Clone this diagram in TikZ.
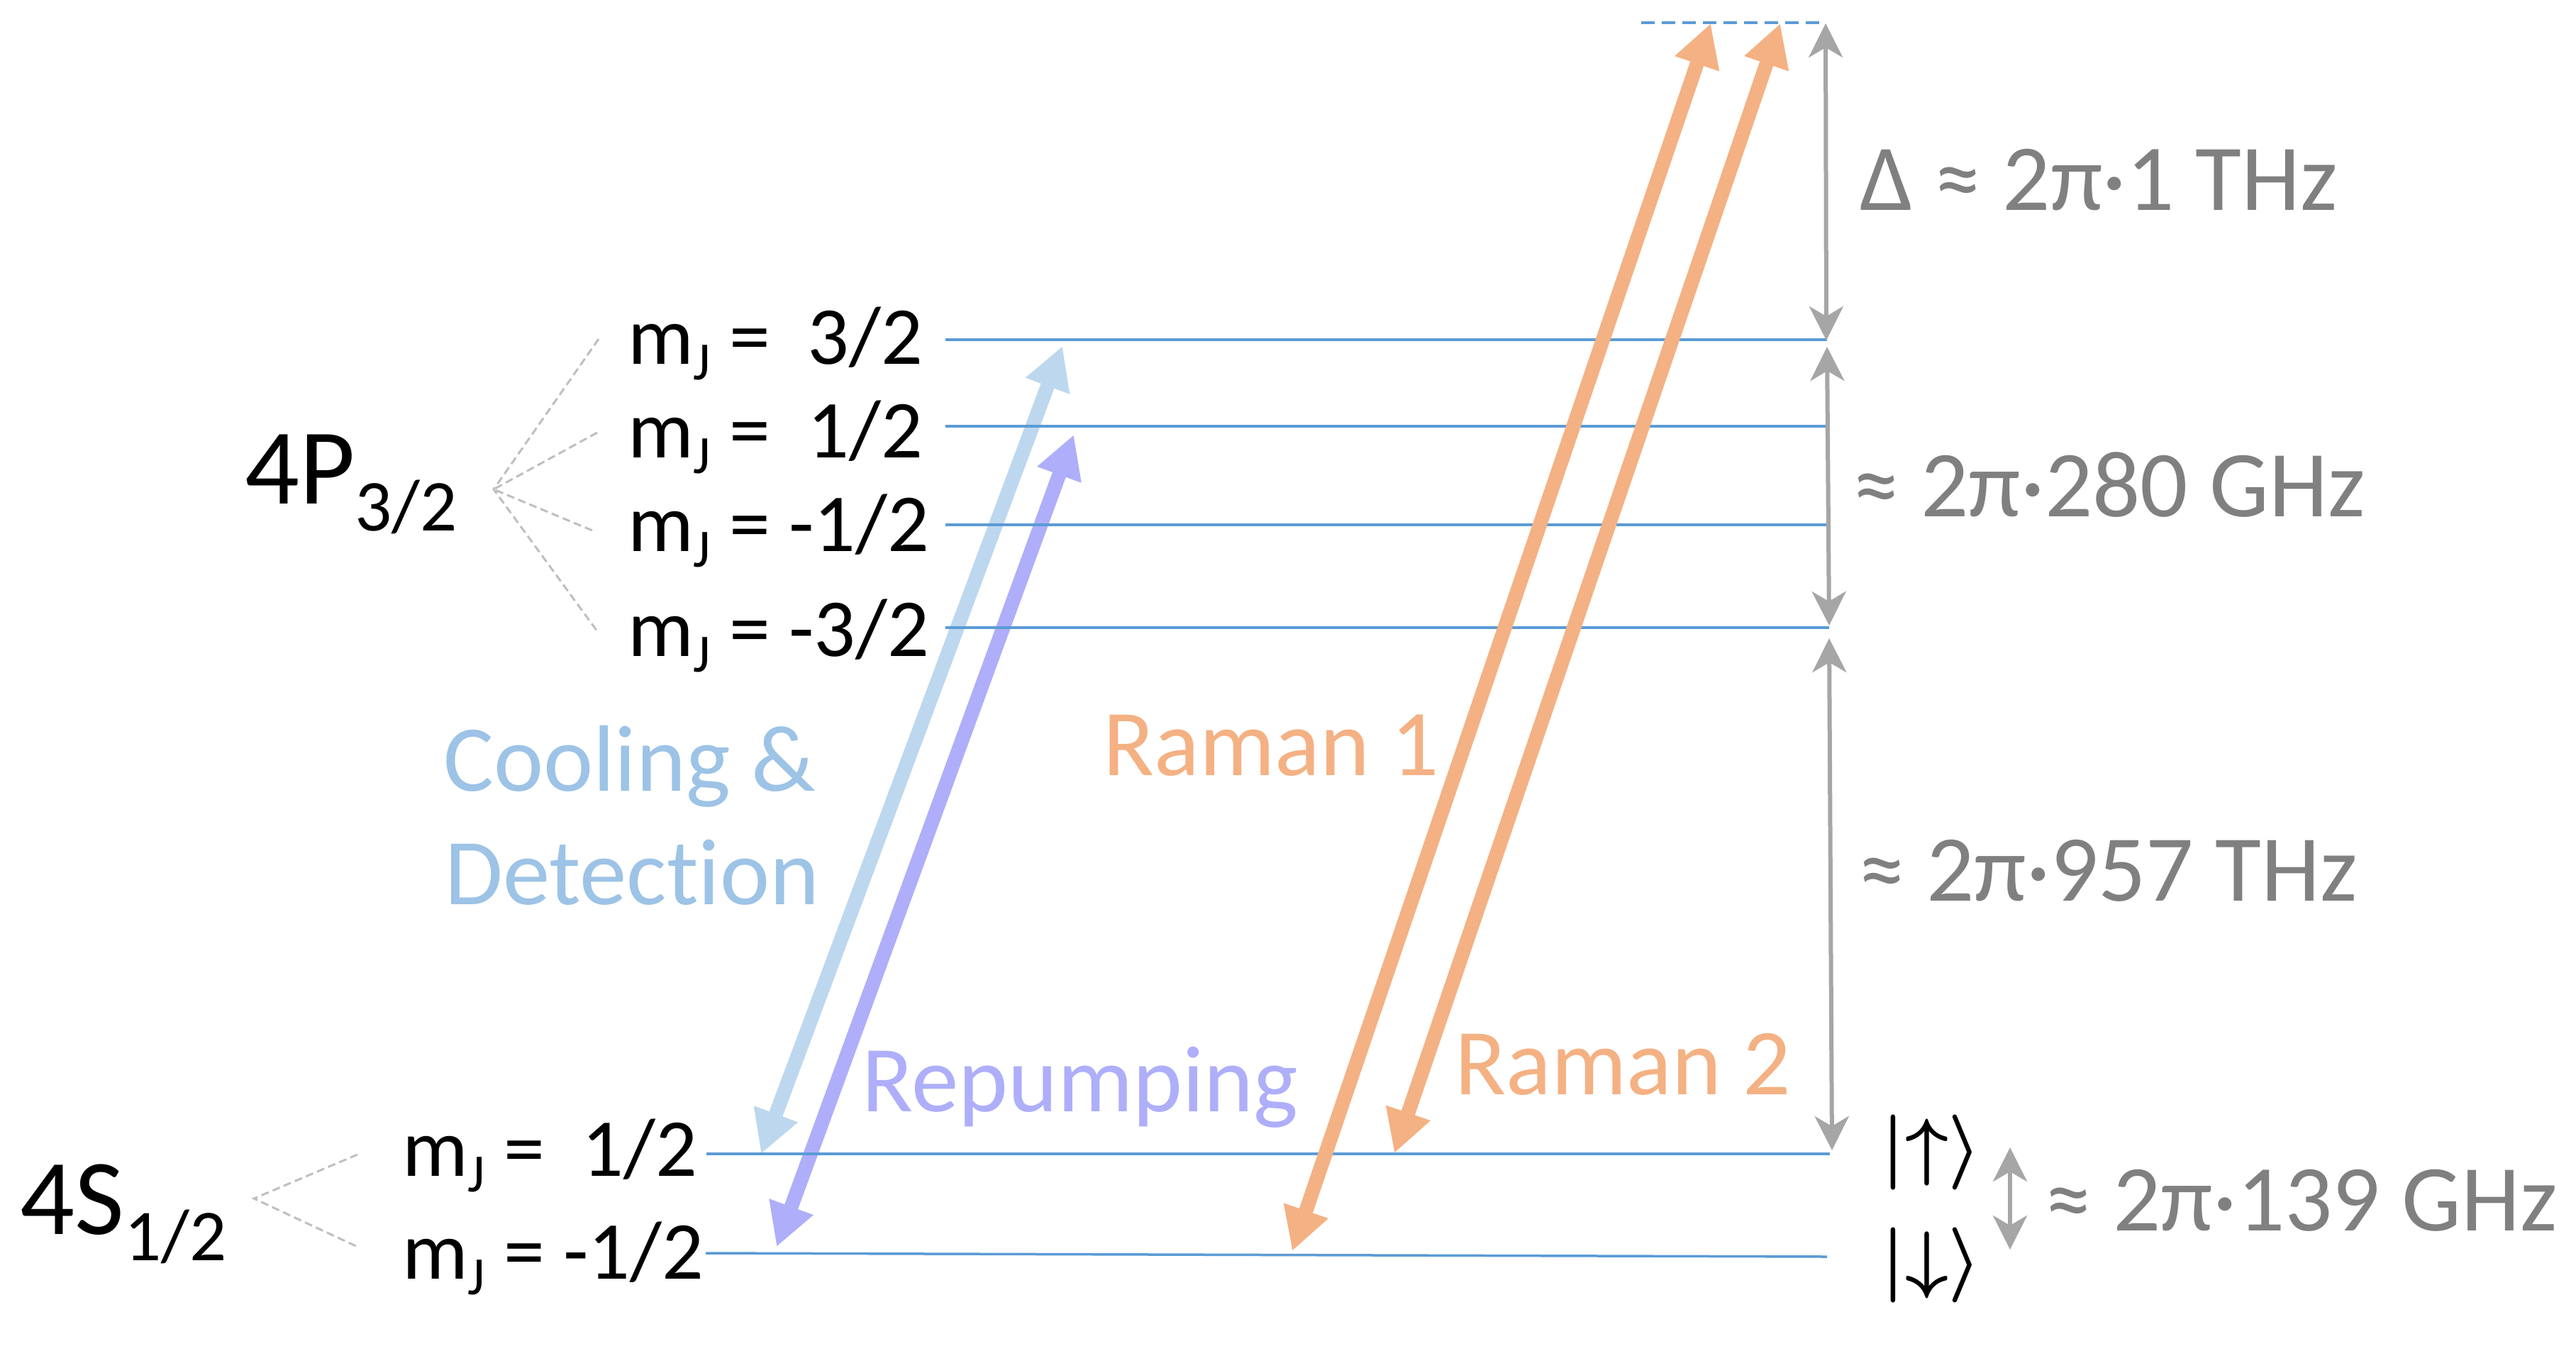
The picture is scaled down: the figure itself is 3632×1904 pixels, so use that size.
\documentclass[tikz,border=0pt]{standalone}
\usepackage{fontspec}
\setmainfont{Carlito}[Ligatures=NoCommon]
\usetikzlibrary{arrows.meta}
\definecolor{lvl}{HTML}{5B9BD5}
\definecolor{coolc}{HTML}{BDD7EE}
\definecolor{cooltxt}{HTML}{9DC3E6}
\definecolor{repc}{RGB}{174,174,250}
\definecolor{ramc}{HTML}{F4B183}
\definecolor{gtxt}{HTML}{808080}
\definecolor{garr}{HTML}{A6A6A6}
\definecolor{fanc}{HTML}{BFBFBF}
\newcommand\mjsub{m\raisebox{-22pt}{\fontsize{76}{76}\selectfont J}}
\newcommand\ketup{\scalebox{10.6}{\boldmath$|{\uparrow}\rangle$}}
\newcommand\ketdn{\scalebox{10.6}{\boldmath$|{\downarrow}\rangle$}}
\begin{document}
\begin{tikzpicture}[x=1pt,y=-1pt,
  lvline/.style={draw=lvl,line width=3.5pt},
  fanline/.style={draw=fanc,line width=3pt,dash pattern=on 11pt off 6pt},
  beam/.style={line width=20pt,{Triangle[length=60pt,width=62pt]}-{Triangle[length=60pt,width=62pt]}},
  gapline/.style={draw=garr,line width=6pt,{Stealth[length=48pt,width=48pt,inset=14pt]}-{Stealth[length=48pt,width=48pt,inset=14pt]}},
  lbl/.style={inner sep=0pt,anchor=base west,font=\fontsize{116}{116}\selectfont},
  big/.style={inner sep=0pt,anchor=base west,font=\fontsize{133}{160}\selectfont},
  term/.style={inner sep=0pt,anchor=base west,font=\fontsize{152}{152}\selectfont},
]
\useasboundingbox (0,0) rectangle (3632,1904);

% level end points
\coordinate (P3L) at (1333,479);  \coordinate (P3R) at (2576,479);
\coordinate (P1L) at (1333,601);  \coordinate (P1R) at (2574,601);
\coordinate (Pm1L) at (1333,740); \coordinate (Pm1R) at (2576,740);
\coordinate (Pm3L) at (1333,885); \coordinate (Pm3R) at (2579,885);
\coordinate (S1L) at (996,1627);  \coordinate (S1R) at (2580,1627);
\coordinate (Sm1L) at (995,1767); \coordinate (Sm1R) at (2576,1772);
\coordinate (VL) at (2314,32);    \coordinate (VR) at (2574,32);

% beam end points
\coordinate (coolA) at (1073,1627); \coordinate (coolB) at (1498,488);
\coordinate (repA) at (1095,1758);  \coordinate (repB) at (1514,613);
\coordinate (ramA) at (1822,1764);  \coordinate (ramB) at (2412,33);
\coordinate (ramC) at (1966,1626);  \coordinate (ramD) at (2510,33);

% gap arrows
\coordinate (g1a) at (2574,33);   \coordinate (g1b) at (2575,480);
\coordinate (g2a) at (2576,489);  \coordinate (g2b) at (2579,882);
\coordinate (g3a) at (2579,900);  \coordinate (g3b) at (2583,1622);
\coordinate (g4a) at (2834,1618); \coordinate (g4b) at (2834,1762);

% fans
\coordinate (Pap) at (696,690);
\coordinate (Pf1) at (844,478); \coordinate (Pf2) at (842,610);
\coordinate (Pf3) at (840,750); \coordinate (Pf4) at (842,890);
\coordinate (Sap) at (358,1690);
\coordinate (Sf1) at (504,1628); \coordinate (Sf2) at (504,1758);

\draw[fanline] (Pf1) -- (Pap) -- (Pf4);
\draw[fanline] (Pf2) -- (Pap) -- (Pf3);
\draw[fanline] (Sf1) -- (Sap) -- (Sf2);

\draw[beam,draw=coolc,fill=coolc] (coolA) -- (coolB);
\draw[beam,draw=repc,fill=repc] (repA) -- (repB);

\draw[lvline] (P3L) -- (P3R);
\draw[lvline] (P1L) -- (P1R);
\draw[lvline] (Pm1L) -- (Pm1R);
\draw[lvline] (Pm3L) -- (Pm3R);
\draw[lvline] (S1L) -- (S1R);
\draw[lvline] (Sm1L) -- (Sm1R);
\draw[lvline,dash pattern=on 19pt off 10pt] (VL) -- (VR);

\draw[beam,draw=ramc,fill=ramc] (ramA) -- (ramB);
\draw[beam,draw=ramc,fill=ramc] (ramC) -- (ramD);

\draw[gapline] (g1a) -- (g1b);
\draw[gapline] (g2a) -- (g2b);
\draw[gapline] (g3a) -- (g3b);
\draw[gapline] (g4a) -- (g4b);

% labels
\node[term] (tP) at (345,710) {4P\raisebox{-38pt}{\fontsize{103}{103}\selectfont 3/2}};
\node[term] (tS) at (28,1740) {4S\raisebox{-37pt}{\fontsize{103}{103}\selectfont 1/2}};

\node[lbl] (mP3) at (885,513) {\mjsub{} = \ 3/2};
\node[lbl] (mP1) at (885,645) {\mjsub{} = \ 1/2};
\node[lbl] (mPm1) at (885,777) {\mjsub{} = -1/2};
\node[lbl] (mPm3) at (885,925) {\mjsub{} = -3/2};
\node[lbl] (mS1) at (567,1658) {\mjsub{} = \ 1/2};
\node[lbl] (mSm1) at (567,1803) {\mjsub{} = -1/2};

\node[big,text=gtxt] (tDelta) at (2622,296) {Δ ≈ 2π·1 THz};
\node[big,text=gtxt] (t280) at (2612,728) {≈ 2π·280 GHz};
\node[big,text=gtxt] (t957) at (2620,1270) {≈ 2π·957 THz};
\node[big,text=gtxt] (t139) at (2883,1735) {≈ 2π·139 GHz};

\node[big,text=cooltxt] (tcool1) at (625,1115) {Cooling \&};
\node[big,text=cooltxt] (tcool2) at (627,1275) {Detection};
\node[big,text=repc] (trep) at (1215,1567) {Repumping};
\node[big,text=ramc] (tram1) at (1555,1093) {Raman 1};
\node[big,text=ramc] (tram2) at (2051,1543) {Raman 2};

\node[inner sep=0pt,anchor=base west] (kup) at (2652,1651) {\ketup};
\node[inner sep=0pt,anchor=base west] (kdn) at (2652,1810) {\ketdn};
\end{tikzpicture}
\end{document}
